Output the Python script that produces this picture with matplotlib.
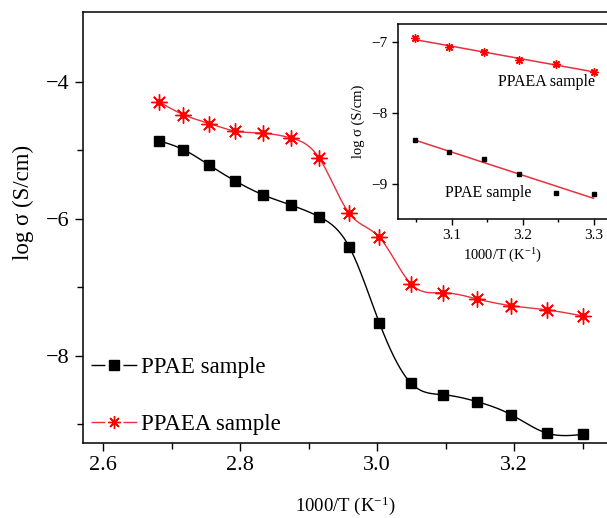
import numpy as np
import matplotlib
matplotlib.use("Agg")
import matplotlib.pyplot as plt
from matplotlib.lines import Line2D
from matplotlib.ticker import MultipleLocator, FixedLocator, FormatStrFormatter, FuncFormatter

plt.rcParams['font.family'] = ['Liberation Serif', 'DejaVu Serif']
plt.rcParams['mathtext.fontset'] = 'custom'
plt.rcParams['mathtext.rm'] = 'Liberation Serif'
plt.rcParams['mathtext.it'] = 'Liberation Serif:italic'
plt.rcParams['axes.unicode_minus'] = True

# ---- data ----
inv_T = [2.681, 2.717, 2.755, 2.793, 2.833, 2.874, 2.915, 2.959, 3.003,
         3.049, 3.096, 3.145, 3.195, 3.247, 3.300]
ppae = [-4.86, -4.99, -5.22, -5.45, -5.65, -5.80, -5.97, -6.41, -7.52,
        -8.40, -8.57, -8.67, -8.86, -9.13, -9.15]
ppaea = [-4.29, -4.48, -4.61, -4.72, -4.75, -4.82, -5.11, -5.92, -6.27,
         -6.95, -7.08, -7.17, -7.27, -7.33, -7.42]
inset_T = [3.049, 3.096, 3.145, 3.195, 3.247, 3.300]
inset_ppae = [-8.38, -8.55, -8.65, -8.86, -9.12, -9.14]
inset_ppaea = [-6.95, -7.07, -7.15, -7.25, -7.31, -7.42]
labels = ['PPAE sample', 'PPAEA sample']

BLACK = '#000000'
RED = '#ff0000'
RLINE = '#e8303f'


def natural_spline(x, y, n=400):
    x = np.asarray(x, float)
    y = np.asarray(y, float)
    m = len(x)
    h = np.diff(x)
    A = np.zeros((m, m))
    b = np.zeros(m)
    A[0, 0] = 1
    A[-1, -1] = 1
    for i in range(1, m - 1):
        A[i, i - 1] = h[i - 1]
        A[i, i] = 2 * (h[i - 1] + h[i])
        A[i, i + 1] = h[i]
        b[i] = 6 * ((y[i + 1] - y[i]) / h[i] - (y[i] - y[i - 1]) / h[i - 1])
    M = np.linalg.solve(A, b)
    xs = np.linspace(x[0], x[-1], n)
    idx = np.clip(np.searchsorted(x, xs) - 1, 0, m - 2)
    x0, x1 = x[idx], x[idx + 1]
    hh = x1 - x0
    t0 = x1 - xs
    t1 = xs - x0
    ys = (M[idx] * t0 ** 3 / (6 * hh) + M[idx + 1] * t1 ** 3 / (6 * hh)
          + (y[idx] / hh - M[idx] * hh / 6) * t0
          + (y[idx + 1] / hh - M[idx + 1] * hh / 6) * t1)
    return xs, ys


minus_fmt = FuncFormatter(lambda v, p: f'\u2212{abs(int(round(v)))}')

fig = plt.figure(figsize=(6.07, 5.18), dpi=100)
ax = fig.add_axes([83 / 607, 1 - 443.3 / 518, 1 - 83 / 607, (443.3 - 12) / 518])

xs, ys = natural_spline(inv_T, ppae)
ax.plot(xs, ys, color=BLACK, lw=1.0)
ax.plot(inv_T, ppae, ls='none', marker='s', ms=7.5, color=BLACK)
xs, ys = natural_spline(inv_T, ppaea)
ax.plot(xs, ys, color=RLINE, lw=1.0)
ax.plot(inv_T, ppaea, ls='none', marker=(8, 2, 0), ms=11.5, mew=1.0, color=RED)
ax.plot(inv_T, ppaea, ls='none', marker='o', ms=4, color=RED)

ax.set_xlim(2.5704, 3.3353)
ax.set_ylim(-9.28, -2.98)
ax.xaxis.set_major_locator(MultipleLocator(0.2))
ax.xaxis.set_minor_locator(MultipleLocator(0.1))
ax.yaxis.set_major_locator(FixedLocator([-8, -6, -4]))
ax.yaxis.set_minor_locator(FixedLocator([-9, -7, -5]))
ax.tick_params(which='major', direction='out', length=6, width=1, labelsize=16)
ax.tick_params(which='minor', direction='out', length=4, width=1)
ax.xaxis.set_major_formatter(FormatStrFormatter('%.1f'))
ax.yaxis.set_major_formatter(minus_fmt)
ax.spines['right'].set_visible(False)
for s in ['left', 'top', 'bottom']:
    ax.spines[s].set_linewidth(1.1)
ax.set_xlabel(r'1000/T (K$^{-1}$)', fontsize=13.5, labelpad=14)
ax.set_ylabel('log σ (S/cm)', fontsize=16.5)
ax.yaxis.set_label_coords(-0.094, 0.558)

h1 = Line2D([0], [0], color=BLACK, lw=1.0, dashes=(10, 13), marker='s', ms=6.5)
h2 = Line2D([0], [0], color=RLINE, lw=1.0, dashes=(10, 13), marker=(8, 2, 0), ms=9,
            mew=1.0, mec=RED, mfc=RED)
leg = ax.legend([h1, h2], labels, loc='center left', bbox_to_anchor=(0.0153, 0.110),
                frameon=False, fontsize=16.5, handlelength=2.0, handletextpad=0.2,
                labelspacing=1.6, borderaxespad=0.0, borderpad=0.0)

# ---- inset ----
ins = fig.add_axes([397.7 / 607, 1 - 219 / 518, 1 - 397.7 / 607, (219 - 24) / 518])
ins.set_facecolor('white')
for xd, yd, mk, col, ms in [(inset_T, inset_ppaea, (8, 2, 0), RED, 6),
                             (inset_T, inset_ppae, 's', BLACK, 3.5)]:
    k, c = np.polyfit(xd, yd, 1)
    xx = np.array([xd[0], xd[-1]])
    ins.plot(xx, k * xx + c, color=RLINE, lw=1.1)
    ins.plot(xd, yd, ls='none', marker=mk, ms=ms, color=col, mew=1.0)
ins.set_xlim(3.024, 3.319)
ins.set_ylim(-9.49, -6.75)
ins.xaxis.set_major_locator(MultipleLocator(0.1))
ins.xaxis.set_minor_locator(MultipleLocator(0.05))
ins.yaxis.set_major_locator(MultipleLocator(1))
ins.xaxis.set_major_formatter(FormatStrFormatter('%.1f'))
ins.yaxis.set_major_formatter(minus_fmt)
ins.tick_params(which='major', direction='out', length=4, width=1, labelsize=11)
ins.tick_params(which='minor', direction='out', length=2.5, width=1)
ins.spines['right'].set_visible(False)
for s in ['left', 'top', 'bottom']:
    ins.spines[s].set_linewidth(1.1)
ins.set_xlabel(r'1000/T (K$^{-1}$)', fontsize=10.5, labelpad=3)
ins.set_ylabel('log σ (S/cm)', fontsize=10.5, labelpad=4)
ins.text(3.1656, -7.562, labels[1], fontsize=11.5, va='center', ha='left')
ins.text(3.0906, -9.13, labels[0], fontsize=11.5, va='center', ha='left')

fig.savefig('out.png', dpi=100)
